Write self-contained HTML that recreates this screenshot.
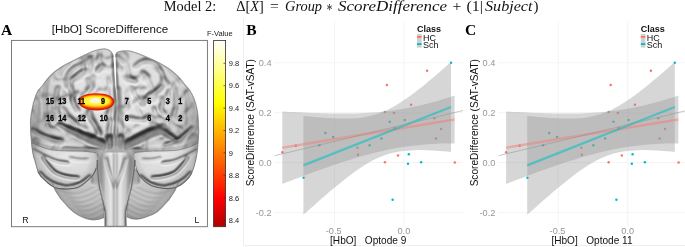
<!DOCTYPE html>
<html><head><meta charset="utf-8"><title>Figure</title>
<style>
html,body{margin:0;padding:0;background:#fff;}
body{width:685px;height:247px;overflow:hidden;position:relative;font-family:"Liberation Sans",sans-serif;}
svg{position:absolute;left:0;top:0;will-change:transform;}
text{font-family:"Liberation Sans",sans-serif;}
.tick{font-size:9.2px;fill:#969696;}
.axt{font-size:10.1px;fill:#111;}
.legt{font-size:9px;font-weight:bold;fill:#111;}
.leg{font-size:9px;fill:#111;}
.pl{font-family:"Liberation Serif",serif;font-weight:bold;font-size:15.5px;fill:#000;}
.ttl text{font-family:"Liberation Serif",serif;font-size:14.5px;fill:#111;}
.cb{font-size:7.5px;fill:#222;}
.num{font-size:8.3px;font-weight:bold;fill:#000;stroke:#000;stroke-width:0.3px;}
</style></head><body>
<svg width="685" height="247" viewBox="0 0 685 247">
<defs>
<linearGradient id="hot" x1="0" y1="0" x2="0" y2="1">
<stop offset="0" stop-color="#ffffff"/><stop offset="0.338" stop-color="#ffff00"/><stop offset="0.845" stop-color="#ff0000"/><stop offset="1" stop-color="#b00000"/>
</linearGradient>
</defs>
<g class="ttl" lengthAdjust="spacingAndGlyphs">
<text x="163.8" y="11.3" textLength="52.4" lengthAdjust="spacingAndGlyphs">Model 2:</text>
<text x="236.2" y="11.3" textLength="27.6" lengthAdjust="spacingAndGlyphs">Δ[<tspan font-style="italic">X</tspan>]</text>
<text x="270" y="11.3" textLength="8.8" lengthAdjust="spacingAndGlyphs">=</text>
<text x="285" y="11.3" textLength="37" lengthAdjust="spacingAndGlyphs" font-style="italic">Group</text>
<text x="326.8" y="15.2" textLength="5.6" lengthAdjust="spacingAndGlyphs" style="font-size:17px">*</text>
<text x="338" y="11.3" textLength="109" lengthAdjust="spacingAndGlyphs" font-style="italic">ScoreDifference</text>
<text x="452.5" y="11.3" textLength="8.8" lengthAdjust="spacingAndGlyphs">+</text>
<text x="466.5" y="11.3" textLength="16.5" lengthAdjust="spacingAndGlyphs">(1|</text>
<text x="485" y="11.3" textLength="47.5" lengthAdjust="spacingAndGlyphs" font-style="italic">Subject</text>
<text x="533.5" y="11.3" textLength="5" lengthAdjust="spacingAndGlyphs">)</text>
</g>
<text x="1" y="34.8" class="pl">A</text>
<text x="110" y="32.8" text-anchor="middle" style="font-size:11.6px;fill:#111">[HbO] ScoreDifference</text>
<defs>
<filter id="b05" x="-30%" y="-30%" width="160%" height="160%"><feGaussianBlur stdDeviation="0.45"/></filter>
<filter id="b1" x="-30%" y="-30%" width="160%" height="160%"><feGaussianBlur stdDeviation="0.9"/></filter>
<filter id="b2" x="-30%" y="-30%" width="160%" height="160%"><feGaussianBlur stdDeviation="1.8"/></filter>
<filter id="emb" filterUnits="userSpaceOnUse" x="10" y="38" width="200" height="192" color-interpolation-filters="sRGB">
<feColorMatrix in="SourceGraphic" type="luminanceToAlpha" result="A"/>
<feTurbulence type="turbulence" baseFrequency="0.055 0.05" numOctaves="2" seed="7" result="T"/>
<feColorMatrix in="T" type="matrix" values="0 0 0 0 0  0 0 0 0 0  0 0 0 0 0  5 0 0 0 0" result="TN"/>
<feComposite in="A" in2="TN" operator="arithmetic" k1="0.2" k2="0.8" k3="0" k4="0" result="AT"/>
<feGaussianBlur in="AT" stdDeviation="1.6" result="H"/>
<feDiffuseLighting in="H" surfaceScale="9" diffuseConstant="1.0" lighting-color="#f4f4f4" result="L"><feDistantLight azimuth="268" elevation="70"/></feDiffuseLighting>
<feColorMatrix in="H" type="matrix" values="0 0 0 1 0  0 0 0 1 0  0 0 0 1 0  0 0 0 0 1" result="HG"/>
<feComposite in="L" in2="HG" operator="arithmetic" k1="0.74" k2="0.25" k3="0" k4="0"/>
</filter>
<filter id="emb2" filterUnits="userSpaceOnUse" x="10" y="38" width="200" height="192" color-interpolation-filters="sRGB">
<feColorMatrix in="SourceGraphic" type="luminanceToAlpha" result="A"/>
<feGaussianBlur in="A" stdDeviation="1.0" result="H"/>
<feDiffuseLighting in="H" surfaceScale="6" diffuseConstant="1.0" lighting-color="#f2f2f2" result="L"><feDistantLight azimuth="268" elevation="72"/></feDiffuseLighting>
<feColorMatrix in="H" type="matrix" values="0 0 0 1 0  0 0 0 1 0  0 0 0 1 0  0 0 0 0 1" result="HG"/>
<feComposite in="L" in2="HG" operator="arithmetic" k1="0.7" k2="0.27" k3="0" k4="0"/>
</filter>
<radialGradient id="hgL" gradientUnits="userSpaceOnUse" cx="97" cy="100" r="70"><stop offset="0" stop-color="#fff"/><stop offset="0.45" stop-color="#f2f2f2"/><stop offset="0.75" stop-color="#d6d6d6"/><stop offset="0.92" stop-color="#b4b4b4"/><stop offset="1" stop-color="#9c9c9c"/></radialGradient>
<radialGradient id="hgR" gradientUnits="userSpaceOnUse" cx="133" cy="100" r="70"><stop offset="0" stop-color="#fff"/><stop offset="0.45" stop-color="#f2f2f2"/><stop offset="0.75" stop-color="#d6d6d6"/><stop offset="0.92" stop-color="#b4b4b4"/><stop offset="1" stop-color="#9c9c9c"/></radialGradient>
<radialGradient id="hgTL" gradientUnits="userSpaceOnUse" cx="68" cy="160" r="38"><stop offset="0" stop-color="#fff"/><stop offset="0.55" stop-color="#ececec"/><stop offset="0.85" stop-color="#c0c0c0"/><stop offset="1" stop-color="#8c8c8c"/></radialGradient>
<radialGradient id="hgTR" gradientUnits="userSpaceOnUse" cx="162" cy="160" r="38"><stop offset="0" stop-color="#fff"/><stop offset="0.55" stop-color="#ececec"/><stop offset="0.85" stop-color="#c0c0c0"/><stop offset="1" stop-color="#8c8c8c"/></radialGradient>
<radialGradient id="hgCL" gradientUnits="userSpaceOnUse" cx="92" cy="182" r="44"><stop offset="0" stop-color="#d2d2d2"/><stop offset="0.5" stop-color="#c0c0c0"/><stop offset="0.8" stop-color="#9c9c9c"/><stop offset="1" stop-color="#707070"/></radialGradient>
<radialGradient id="hgCR" gradientUnits="userSpaceOnUse" cx="138" cy="182" r="44"><stop offset="0" stop-color="#d2d2d2"/><stop offset="0.5" stop-color="#c0c0c0"/><stop offset="0.8" stop-color="#9c9c9c"/><stop offset="1" stop-color="#707070"/></radialGradient>
<linearGradient id="hgS" gradientUnits="userSpaceOnUse" x1="98" y1="0" x2="133" y2="0"><stop offset="0" stop-color="#777"/><stop offset="0.18" stop-color="#d8d8d8"/><stop offset="0.36" stop-color="#fff"/><stop offset="0.5" stop-color="#e4e4e4"/><stop offset="0.64" stop-color="#fff"/><stop offset="0.82" stop-color="#d8d8d8"/><stop offset="1" stop-color="#777"/></linearGradient>
<clipPath id="boxclip"><rect x="12" y="41" width="195" height="185.5"/></clipPath>
<clipPath id="sil"><path d="M113.4,57 C112.8,53 110.5,49.6 104.7,48.7 C100,48.8 97,50 94.7,50.8 C91,52 88,53.5 84.7,55 C81,56.8 78,58.3 74.7,60 C71,61.8 68,63.2 64.7,65 C61,67 58,69.2 54.7,71.7 C52,73.8 50,76 48,78.3 C46,80.5 44.5,82.8 43,85 C41,87.5 39.3,89.2 38,90.7 C36.5,93.5 35.5,96 34.7,99 C33.5,102 32.7,105.5 32.2,109 C31.2,113 30.7,117 30.5,120.7 C30.3,127 30.6,134 31.3,140 C32,150 33,156 34.7,160 C35.8,164 36.8,168 38,171.7 C39.5,175 42,178 44.7,180 C47.5,183 51,185.8 54.7,187.5 C59,189 63.5,189.3 68,189 C71.5,188.8 75,188.4 78,187.5 C81,186 84,184 86.3,181.7 C89,179.5 91,177.5 93,175 C94.5,172.5 95.5,170.5 96.3,168.3 C97,165 97.2,162 97.2,160 L100,152 L116.2,148 L116.6,100 Z"/><path d="M115.6,57 C115.7,56 115.7,55 115.8,54.2 C116.3,53 117,52.3 118.3,51.7 C121,50.8 124.5,50.6 128.3,50.8 C133,51.5 137.5,53.2 141.7,55 C146,56.7 150.5,58.7 155,60.8 C159.5,63 164,65.6 168.3,68.3 C172,70.8 175.3,73.8 178.3,76.7 C181,79.3 183,82.2 185,85 C187,87 188.6,88.8 190,90.7 C191.7,93.3 193,96 194.2,99 C195.4,102.2 196.3,105.6 197,109 C197.8,113 198.2,117 198.3,120.7 C198.8,127 198.8,134 198.3,140 C197.6,150 196.8,156 195.8,160 C194.7,165 193.4,169.5 191.7,173.3 C190,176.5 187.7,179.4 185,181.7 C182,184.5 178.7,186.5 175,187.5 C171,188.7 167,188.8 163.3,188.3 C159,187.8 155,187 151.7,185.8 C148,184 144.5,181.4 141.7,178.3 C139.5,175.8 137.8,173 136.7,170 C135.6,166.5 135.1,163 135,160 L132,152 L116.2,148 L116.6,100 Z"/></clipPath>
<clipPath id="tlc"><path d="M29,141 C38,146 46,149 53,150 C62,151 70,151 78,151 C85,151.3 91,151.8 96,152.6 C98.5,155 99,158 97.5,161 C97,164 96.8,166 96,167.7 L93,175 L86.3,181.7 L78,187.5 L68,189 L54.7,187.5 L44.7,180 L38,171.7 L33,158 Z"/><path d="M201.6,141 C192.6,146 184.6,149 177.6,150 C168.6,151 160.6,151 152.6,151 C145.6,151.3 139.6,151.8 134.6,152.6 C132.1,155 131.6,158 133.1,161 C133.6,164 133.8,166 134.6,167.7 L137.6,175 L144.3,181.7 L152.6,187.5 L162.6,189 L175.9,187.5 L185.9,180 L192.6,171.7 L197.6,158 Z"/></clipPath>
<clipPath id="sil2"><path d="M52,182 C54,188 56,192 58.3,195 C60,198.5 62.5,201 65,203.3 C67.5,206.5 70.3,209.3 73.3,211.7 C76.5,214 79.8,216 83.3,217.5 C86.5,218.8 90,219.7 93.3,220 C97,219.8 101,219 104.2,217.5 L106,168 L60,170 Z"/><path d="M178.5,182 C176.5,188 174.5,192 172,195 C170.3,198.5 168,201 165.5,203.3 C163,206.5 160.2,209.3 157.2,211.7 C154,214 150.4,215.6 146.7,216.7 C143.5,218 140,219 136.7,219.2 C133,219.2 129.5,218.3 126.7,216.7 L125,168 L170,170 Z"/><path d="M107,151.5 C101,152.5 97.2,158 97.5,165 C97.6,170 97.9,174 98.2,176.7 C98.6,182 99.2,186 100,190 C101.6,191.5 100.2,193.5 101.4,195 C102.8,196.5 101.2,198.5 102.4,200 C103.8,201.5 102.6,203.5 103.6,205 C104.6,207 104.2,209.5 105,211.7 L105,228 L126.2,228 L125.8,211.7 C126.4,209.5 126.2,207 127.2,205 C128.2,203.5 127,201.5 128.4,200 C129.6,198.5 128,196.5 129.4,195 C130.6,193.5 129.4,191.5 130.8,190 C131.3,188 131.5,186.5 131.7,185 C132.4,181 133,178 133.3,175 C133.8,172 134.3,169 134.6,165 C135,158 131,152.5 125,151.5 Z"/><rect x="97" y="140" width="38" height="30"/></clipPath>
</defs>
<g clip-path="url(#boxclip)"><g clip-path="url(#sil2)"><g filter="url(#emb2)">
<rect x="0" y="30" width="230" height="217" fill="#8c8c8c"/>
<path d="M52,182 C54,188 56,192 58.3,195 C60,198.5 62.5,201 65,203.3 C67.5,206.5 70.3,209.3 73.3,211.7 C76.5,214 79.8,216 83.3,217.5 C86.5,218.8 90,219.7 93.3,220 C97,219.8 101,219 104.2,217.5 L106,168 L60,170 Z" fill="url(#hgCL)" stroke="url(#hgCL)" stroke-width="7"/><path d="M178.5,182 C176.5,188 174.5,192 172,195 C170.3,198.5 168,201 165.5,203.3 C163,206.5 160.2,209.3 157.2,211.7 C154,214 150.4,215.6 146.7,216.7 C143.5,218 140,219 136.7,219.2 C133,219.2 129.5,218.3 126.7,216.7 L125,168 L170,170 Z" fill="url(#hgCR)" stroke="url(#hgCR)" stroke-width="7"/>
<g fill="none" stroke="#000" stroke-width="0.6" stroke-opacity="0.22">
<path d="M60.0,191.0 C72.0,198.0 86.0,195.0 104.0,181.0"/>
<path d="M170.6,191.0 C158.6,198.0 144.6,195.0 126.6,181.0"/>
<path d="M63.5,195.2 C75.5,202.2 87.5,199.2 104.0,186.7"/>
<path d="M167.1,195.2 C155.1,202.2 143.1,199.2 126.6,186.7"/>
<path d="M67.0,199.4 C79.0,206.4 89.0,203.4 104.0,192.4"/>
<path d="M163.6,199.4 C151.6,206.4 141.6,203.4 126.6,192.4"/>
<path d="M70.5,203.6 C82.5,210.6 90.5,207.6 104.0,198.1"/>
<path d="M160.1,203.6 C148.1,210.6 140.1,207.6 126.6,198.1"/>
<path d="M74.0,207.8 C86.0,214.8 92.0,211.8 104.0,203.8"/>
<path d="M156.6,207.8 C144.6,214.8 138.6,211.8 126.6,203.8"/>
<path d="M77.5,212.0 C89.5,219.0 93.5,216.0 104.0,209.5"/>
<path d="M153.1,212.0 C141.1,219.0 137.1,216.0 126.6,209.5"/>
<path d="M81.0,216.2 C93.0,223.2 95.0,220.2 104.0,215.2"/>
<path d="M149.6,216.2 C137.6,223.2 135.6,220.2 126.6,215.2"/>
</g>
<rect x="92" y="140" width="47" height="44" fill="#9a9a9a"/>
<path d="M107,151.5 C101,152.5 97.2,158 97.5,165 C97.6,170 97.9,174 98.2,176.7 C98.6,182 99.2,186 100,190 C101.6,191.5 100.2,193.5 101.4,195 C102.8,196.5 101.2,198.5 102.4,200 C103.8,201.5 102.6,203.5 103.6,205 C104.6,207 104.2,209.5 105,211.7 L105,228 L126.2,228 L125.8,211.7 C126.4,209.5 126.2,207 127.2,205 C128.2,203.5 127,201.5 128.4,200 C129.6,198.5 128,196.5 129.4,195 C130.6,193.5 129.4,191.5 130.8,190 C131.3,188 131.5,186.5 131.7,185 C132.4,181 133,178 133.3,175 C133.8,172 134.3,169 134.6,165 C135,158 131,152.5 125,151.5 Z" fill="url(#hgS)"/>
<path d="M106,158 C108,170 112,180 115.3,187 C118.5,180 123,170 126,158" fill="none" stroke="#000" stroke-opacity="0.22" stroke-width="2.6"/>
<line x1="115.3" y1="150" x2="115.3" y2="228" stroke="#000" stroke-opacity="0.3" stroke-width="0.9"/>
</g></g>
<g clip-path="url(#sil)"><g filter="url(#emb)">
<rect x="0" y="30" width="230" height="217" fill="#8c8c8c"/>
<path d="M113.4,57 C112.8,53 110.5,49.6 104.7,48.7 C100,48.8 97,50 94.7,50.8 C91,52 88,53.5 84.7,55 C81,56.8 78,58.3 74.7,60 C71,61.8 68,63.2 64.7,65 C61,67 58,69.2 54.7,71.7 C52,73.8 50,76 48,78.3 C46,80.5 44.5,82.8 43,85 C41,87.5 39.3,89.2 38,90.7 C36.5,93.5 35.5,96 34.7,99 C33.5,102 32.7,105.5 32.2,109 C31.2,113 30.7,117 30.5,120.7 C30.3,127 30.6,134 31.3,140 C32,150 33,156 34.7,160 C35.8,164 36.8,168 38,171.7 C39.5,175 42,178 44.7,180 C47.5,183 51,185.8 54.7,187.5 C59,189 63.5,189.3 68,189 C71.5,188.8 75,188.4 78,187.5 C81,186 84,184 86.3,181.7 C89,179.5 91,177.5 93,175 C94.5,172.5 95.5,170.5 96.3,168.3 C97,165 97.2,162 97.2,160 L100,152 L116.2,148 L116.6,100 Z" fill="url(#hgL)" stroke="url(#hgL)" stroke-width="7"/><path d="M115.6,57 C115.7,56 115.7,55 115.8,54.2 C116.3,53 117,52.3 118.3,51.7 C121,50.8 124.5,50.6 128.3,50.8 C133,51.5 137.5,53.2 141.7,55 C146,56.7 150.5,58.7 155,60.8 C159.5,63 164,65.6 168.3,68.3 C172,70.8 175.3,73.8 178.3,76.7 C181,79.3 183,82.2 185,85 C187,87 188.6,88.8 190,90.7 C191.7,93.3 193,96 194.2,99 C195.4,102.2 196.3,105.6 197,109 C197.8,113 198.2,117 198.3,120.7 C198.8,127 198.8,134 198.3,140 C197.6,150 196.8,156 195.8,160 C194.7,165 193.4,169.5 191.7,173.3 C190,176.5 187.7,179.4 185,181.7 C182,184.5 178.7,186.5 175,187.5 C171,188.7 167,188.8 163.3,188.3 C159,187.8 155,187 151.7,185.8 C148,184 144.5,181.4 141.7,178.3 C139.5,175.8 137.8,173 136.7,170 C135.6,166.5 135.1,163 135,160 L132,152 L116.2,148 L116.6,100 Z" fill="url(#hgR)" stroke="url(#hgR)" stroke-width="7"/>
<path d="M29,139 C45,141 62,144.5 78,147.5 C88,149 97,149.8 104.5,149.6 L99,160 L97.2,168 L93,175 L86,182 L78,187.5 L68,189 L54.7,187.5 L44.7,180 L38,171.7 L33,158 Z" fill="url(#hgTL)"/>
<path d="M201,139 C185,141 168,144.5 152,147.5 C142,149 133,150.3 126,150.6 L133,160 L135,168 L137,171 L141.7,178.3 L151.7,185.8 L163.3,188.3 L175,187.5 L185,181.7 L191.7,173.3 L197,158 Z" fill="url(#hgTR)"/>
<g fill="none" stroke="#000" stroke-linecap="round" stroke-linejoin="round">
<path d="M91.3,57.5 C88,60 86,62.5 83,64.2 C80,65.5 78,66 76.3,66.7 C73,68.5 71,70.5 69.7,72.5 C68.5,74.5 67.5,76.5 67.2,78.3 C66.8,81 66.8,84 67.5,87" stroke-width="3.4" stroke-opacity="0.21"/><path d="M99.7,55 C99,57.5 98,59.5 96.3,60.8 C94,62 92,62.8 89.7,63.3" stroke-width="2.8" stroke-opacity="0.19"/><path d="M101.8,66.2 L97.6,70.4" stroke-width="4.2" stroke-opacity="0.23"/><path d="M84.7,70 C82,71 80,72.5 78,74.2 C75.5,76 73,78 71.3,80 C70.5,82 70.3,83.5 70.5,85 C70.8,88 71.5,91 72.2,94 C72.5,96 72.3,97.5 72.2,99 C72.8,101.5 73.6,103.5 74.7,105.7 C75.7,107.5 76.8,109.2 78,110.7" stroke-width="3.6" stroke-opacity="0.23"/><path d="M77,93 C74.8,94.8 73,96.8 72.2,99" stroke-width="3.1" stroke-opacity="0.21"/><path d="M68,63.3 C65.5,65.5 63.5,67.5 61.3,70 C60,72 59.3,74 59,76" stroke-width="2.5" stroke-opacity="0.17"/><path d="M58,68.3 C56,70.5 54.5,72.5 53,75" stroke-width="2.2" stroke-opacity="0.17"/><path d="M49.7,76.7 C48.3,78.5 47.2,80.5 46.3,82.5 C45.5,86 45,92 44.7,97.3 C45,102 45.6,106.5 46.3,110.7 C46.8,115 47.4,119.5 48,124" stroke-width="2.8" stroke-opacity="0.19"/><path d="M58,87.3 C57,89.5 56.5,91.5 56.3,94 C56.3,98 56.7,102 57.2,105.7 C57.6,108.5 58.2,111.5 58.8,114" stroke-width="3.1" stroke-opacity="0.21"/><path d="M38,100.7 C37.4,106 37.2,112 37.2,117.3" stroke-width="2.2" stroke-opacity="0.17"/><path d="M89.7,110.7 C90,113 90.5,115.2 91.3,117.3 C92.3,119.8 93.5,122 94.7,124 C96,127 98,131 100,134" stroke-width="3.6" stroke-opacity="0.23"/><path d="M63,108 C65,112 68,116 72,120 C76,124 81,127 86,129" stroke-width="2.8" stroke-opacity="0.19"/><path d="M47,126 C51,128.5 55,130 59,131" stroke-width="2.5" stroke-opacity="0.17"/><path d="M87,79 C88.5,82 89.5,85 89.5,88 C89.3,90 88.5,92 87,93.5" stroke-width="2.8" stroke-opacity="0.15"/><path d="M94,76 C93,80 92.5,84 93,88" stroke-width="2.5" stroke-opacity="0.13"/><path d="M52,104 C52,110 52.5,116 53.5,121" stroke-width="2.2" stroke-opacity="0.13"/><path d="M64,92 C64.5,96 65,100 66,104" stroke-width="2.2" stroke-opacity="0.13"/><path d="M80,116 C80.5,119 82,122 84,124.5" stroke-width="2.2" stroke-opacity="0.13"/><path d="M108,92 C108.5,100 109.5,108 110,116 C110.3,124 110,132 109,140" stroke-width="3.1" stroke-opacity="0.15"/><path d="M119.2,57.5 C121,59 122.6,60.4 124.2,61.7" stroke-width="3.4" stroke-opacity="0.21"/><path d="M135,66.7 C137,64.5 139,62.8 141.7,61.7 C146,60.8 150.5,61 155,62.5 C156.5,64 157.5,65.3 158.3,66.7 C159.5,68.3 160.7,70 161.7,71.7 C162.3,74 162.8,76 163.3,78.3 C165,80.5 166.7,82.8 168.3,85" stroke-width="3.1" stroke-opacity="0.21"/><path d="M129.6,78 L135.4,81" stroke-width="4.2" stroke-opacity="0.23"/><path d="M143,73 L147.8,77" stroke-width="4.2" stroke-opacity="0.23"/><path d="M165,65 C168.5,68 172,71.5 175,75 C177.5,77.8 179.7,80.5 181.7,83.3" stroke-width="2.4" stroke-opacity="0.17"/><path d="M163.3,85.7 C161.5,87.5 160,89.2 158.3,90.7 C154.5,92 151,93.5 148.3,95.7 C146,98.5 144,101.5 142.5,104.8" stroke-width="3.6" stroke-opacity="0.23"/><path d="M130,118.2 C134,119.3 139,120 143.3,119.8 C145.5,118.8 147,117.8 148,116.5" stroke-width="3.1" stroke-opacity="0.21"/><path d="M163.3,102.3 C161.8,104.5 160.8,106.8 160.8,109 C161.8,111 163.3,112.6 165,114" stroke-width="3.4" stroke-opacity="0.21"/><path d="M175,89 C175.7,94 176,99 175.8,104 C175.5,108.5 175,113 174.2,117.3" stroke-width="2.8" stroke-opacity="0.19"/><path d="M131.7,87.3 C132.5,89.8 133.6,92 135,94 C137,97.5 139.3,101 141.7,104" stroke-width="2.8" stroke-opacity="0.15"/><path d="M186,92 C187.5,98 188.3,105 188.3,112 C188.3,117 188,122 187.3,126" stroke-width="2.5" stroke-opacity="0.17"/><path d="M150,122 C154,125 159,126.5 164,126" stroke-width="2.8" stroke-opacity="0.17"/><path d="M168,120 C171,124 175,127 180,128.5" stroke-width="2.5" stroke-opacity="0.17"/><path d="M118.5,89 C118.8,95 119.2,100 119.4,105.7 C119.8,112 120.4,118 121,124 C121.2,128 121.4,132 121.4,136" stroke-width="3.4" stroke-opacity="0.17"/><path d="M127,64 C128,68 128.5,72 128.5,76" stroke-width="2.5" stroke-opacity="0.13"/><path d="M148,80 C150,83 151.5,86 152,89" stroke-width="2.5" stroke-opacity="0.13"/><path d="M137,106 C138,110 139.5,113 141.5,116" stroke-width="2.2" stroke-opacity="0.13"/><path d="M168,90 C169,95 169.5,100 169.5,105" stroke-width="2.2" stroke-opacity="0.13"/><path d="M192,104 C193,110 193.3,116 193,122" stroke-width="2.1" stroke-opacity="0.15"/><path d="M154,108 C155,112 157,116 160,119" stroke-width="2.2" stroke-opacity="0.13"/><path d="M64,148.3 C78,149.8 92,149.8 104,149" stroke-width="1.6" stroke-opacity="0.42"/><path d="M32,129.7 C38,133.5 44,136.3 49.7,138 C54,139.6 58,140.3 62,140.6" stroke-width="2.2" stroke-opacity="0.39"/><path d="M110,138 L110.2,146.5" stroke-width="6.0" stroke-opacity="0.35"/><path d="M126,149 C134,149.8 139,150.3 143.3,150.8" stroke-width="1.6" stroke-opacity="0.42"/><path d="M191.7,128 C187,133 183,137 178.3,139.9 C174,142.2 169.5,144 165,144.9" stroke-width="2.2" stroke-opacity="0.39"/><path d="M120.6,138 L120.4,146.5" stroke-width="6.0" stroke-opacity="0.35"/><path d="M49.7,175 C53,178 57,180 61.3,181.7 C66,183.5 70.5,184.6 74.7,185 C79,185 83,183.5 86,181" stroke-width="1.8" stroke-opacity="0.44"/><path d="M53,172.5 C57,171 61,170.5 64.7,170.8 C69.5,171.2 74,172.3 78,174 C80.5,175 83,176.5 84.7,178" stroke-width="1.5" stroke-opacity="0.40"/><path d="M36,152 C40,156 46,158.5 52,159" stroke-width="1.8" stroke-opacity="0.28"/><path d="M60,158 C68,160 78,160 88,157" stroke-width="1.8" stroke-opacity="0.24"/><path d="M150,176.7 C153,175 156.5,173.8 160,173.3 C163.5,173.8 167,174.8 170,175.8 C173,176.6 175.8,176.9 178.3,176.7 C181.5,175.5 184.3,173.8 186.7,171.7" stroke-width="1.6" stroke-opacity="0.44"/><path d="M146,181 C150,184 155,185.6 160,186" stroke-width="1.6" stroke-opacity="0.36"/><path d="M194,152 C190,156 184,158.5 178,159" stroke-width="1.8" stroke-opacity="0.28"/><path d="M170,158 C162,160 152,160 142,157" stroke-width="1.8" stroke-opacity="0.24"/>
</g><path d="M58,123 C66,126 76,129.5 86,133.5 C93,136 100,139 106.5,142 L106.5,148.5 C99,146.5 93,144 86,141 C77,137 67,130.5 58,124.5 Z" fill="#000" fill-opacity="0.4"/><path d="M124,142 C130,139 137,135.5 143,132.5 C148,130 153,128 158.3,126.5 C162,128 166,130.5 170,133.5 C173,135.5 176,138 178.5,140.5 L176.5,142 C172,139.5 167,136.5 162,134 C158,133.5 152,136.5 146,139.5 C139,143 131,147 124,149 Z" fill="#000" fill-opacity="0.4"/><g fill="none" stroke="#000" stroke-linecap="round" stroke-linejoin="round">
<path d="M114.5,50 C114.4,70 115.5,85 116.6,100 C116.8,115 116.2,132 115.6,150" stroke-width="1.5" stroke-opacity="0.55"/>
</g>
</g></g>
<g clip-path="url(#sil)"><g clip-path="url(#tlc)"><g filter="url(#emb2)">
<rect x="0" y="30" width="230" height="217" fill="#8c8c8c"/>
<path d="M29,141 C38,146 46,149 53,150 C62,151 70,151 78,151 C85,151.3 91,151.8 96,152.6 C98.5,155 99,158 97.5,161 C97,164 96.8,166 96,167.7 L93,175 L86.3,181.7 L78,187.5 L68,189 L54.7,187.5 L44.7,180 L38,171.7 L33,158 Z" fill="url(#hgTL)" stroke="url(#hgTL)" stroke-width="6"/><path d="M201.6,141 C192.6,146 184.6,149 177.6,150 C168.6,151 160.6,151 152.6,151 C145.6,151.3 139.6,151.8 134.6,152.6 C132.1,155 131.6,158 133.1,161 C133.6,164 133.8,166 134.6,167.7 L137.6,175 L144.3,181.7 L152.6,187.5 L162.6,189 L175.9,187.5 L185.9,180 L192.6,171.7 L197.6,158 Z" fill="url(#hgTR)" stroke="url(#hgTR)" stroke-width="6"/>
<g fill="none" stroke="#000" stroke-linecap="round" stroke-linejoin="round"><path d="M43,157.6 C47,164 51,169 55.6,172.7 C62,176 70,177.5 78.3,177.7" stroke-width="2.0" stroke-opacity="0.45"/><path d="M33,150 C40,154 47,157.5 53,160 C58,162 63,163 68,163" stroke-width="1.8" stroke-opacity="0.32"/><path d="M40,173 C46,181 54,185.5 66,187 C76,187 84,182.5 90,176.5" stroke-width="2.2" stroke-opacity="0.36"/><path d="M70,158 C76,160 82,160.5 88,159.5" stroke-width="1.6" stroke-opacity="0.23"/><path d="M187.6,157.6 C183.6,164 179.6,169 175.0,172.7 C168.6,176 160.6,177.5 152.3,177.7" stroke-width="2.0" stroke-opacity="0.45"/><path d="M197.6,150 C190.6,154 183.6,157.5 177.6,160 C172.6,162 167.6,163 162.6,163" stroke-width="1.8" stroke-opacity="0.32"/><path d="M190.6,173 C184.6,181 176.6,185.5 164.6,187 C154.6,187 146.6,182.5 140.6,176.5" stroke-width="2.2" stroke-opacity="0.36"/><path d="M160.6,158 C154.6,160 148.6,160.5 142.6,159.5" stroke-width="1.6" stroke-opacity="0.23"/></g>
</g></g>
<g fill="none" stroke="#505050" stroke-width="3.2" filter="url(#b1)" opacity="0.33" transform="translate(0,-1.8)"><path d="M29,141 C38,146 46,149 53,150 C62,151 70,151 78,151 C85,151.3 91,151.8 96,152.6 C98.5,155 99,158 97.5,161"/><path d="M201.6,141 C192.6,146 184.6,149 177.6,150 C168.6,151 160.6,151 152.6,151 C145.6,151.3 139.6,151.8 134.6,152.6 C132.1,155 131.6,158 133.1,161"/></g>
<g fill="none" stroke="#505050" stroke-width="0.9" filter="url(#b05)" opacity="0.55"><path d="M29,141 C38,146 46,149 53,150 C62,151 70,151 78,151 C85,151.3 91,151.8 96,152.6 C98.5,155 99,158 97.5,161"/><path d="M201.6,141 C192.6,146 184.6,149 177.6,150 C168.6,151 160.6,151 152.6,151 C145.6,151.3 139.6,151.8 134.6,152.6 C132.1,155 131.6,158 133.1,161"/></g>
</g>
<g clip-path="url(#sil)"><g fill="none" stroke="#4a4a4a" stroke-linecap="round" filter="url(#b05)" opacity="0.22">
<path d="M91.3,57.5 C88,60 86,62.5 83,64.2 C80,65.5 78,66 76.3,66.7 C73,68.5 71,70.5 69.7,72.5 C68.5,74.5 67.5,76.5 67.2,78.3 C66.8,81 66.8,84 67.5,87" stroke-width="0.8" stroke-opacity="0.80"/><path d="M99.7,55 C99,57.5 98,59.5 96.3,60.8 C94,62 92,62.8 89.7,63.3" stroke-width="0.7" stroke-opacity="0.72"/><path d="M101.8,66.2 L97.6,70.4" stroke-width="1.0" stroke-opacity="0.88"/><path d="M84.7,70 C82,71 80,72.5 78,74.2 C75.5,76 73,78 71.3,80 C70.5,82 70.3,83.5 70.5,85 C70.8,88 71.5,91 72.2,94 C72.5,96 72.3,97.5 72.2,99 C72.8,101.5 73.6,103.5 74.7,105.7 C75.7,107.5 76.8,109.2 78,110.7" stroke-width="0.9" stroke-opacity="0.88"/><path d="M77,93 C74.8,94.8 73,96.8 72.2,99" stroke-width="0.8" stroke-opacity="0.80"/><path d="M49.7,76.7 C48.3,78.5 47.2,80.5 46.3,82.5 C45.5,86 45,92 44.7,97.3 C45,102 45.6,106.5 46.3,110.7 C46.8,115 47.4,119.5 48,124" stroke-width="0.7" stroke-opacity="0.72"/><path d="M58,87.3 C57,89.5 56.5,91.5 56.3,94 C56.3,98 56.7,102 57.2,105.7 C57.6,108.5 58.2,111.5 58.8,114" stroke-width="0.8" stroke-opacity="0.80"/><path d="M89.7,110.7 C90,113 90.5,115.2 91.3,117.3 C92.3,119.8 93.5,122 94.7,124 C96,127 98,131 100,134" stroke-width="0.9" stroke-opacity="0.88"/><path d="M63,108 C65,112 68,116 72,120 C76,124 81,127 86,129" stroke-width="0.7" stroke-opacity="0.72"/><path d="M119.2,57.5 C121,59 122.6,60.4 124.2,61.7" stroke-width="0.8" stroke-opacity="0.80"/><path d="M135,66.7 C137,64.5 139,62.8 141.7,61.7 C146,60.8 150.5,61 155,62.5 C156.5,64 157.5,65.3 158.3,66.7 C159.5,68.3 160.7,70 161.7,71.7 C162.3,74 162.8,76 163.3,78.3 C165,80.5 166.7,82.8 168.3,85" stroke-width="0.8" stroke-opacity="0.80"/><path d="M129.6,78 L135.4,81" stroke-width="1.0" stroke-opacity="0.88"/><path d="M143,73 L147.8,77" stroke-width="1.0" stroke-opacity="0.88"/><path d="M163.3,85.7 C161.5,87.5 160,89.2 158.3,90.7 C154.5,92 151,93.5 148.3,95.7 C146,98.5 144,101.5 142.5,104.8" stroke-width="0.9" stroke-opacity="0.88"/><path d="M130,118.2 C134,119.3 139,120 143.3,119.8 C145.5,118.8 147,117.8 148,116.5" stroke-width="0.8" stroke-opacity="0.80"/><path d="M163.3,102.3 C161.8,104.5 160.8,106.8 160.8,109 C161.8,111 163.3,112.6 165,114" stroke-width="0.8" stroke-opacity="0.80"/><path d="M175,89 C175.7,94 176,99 175.8,104 C175.5,108.5 175,113 174.2,117.3" stroke-width="0.7" stroke-opacity="0.72"/>
</g>
<path d="M58,123 C66,126 76,129.5 86,133.5 C93,136 100,139 106.5,142 L106.5,148.5 C99,146.5 93,144 86,141 C77,137 67,130.5 58,124.5 Z" fill="#444" filter="url(#b1)" opacity="0.25"/><path d="M124,142 C130,139 137,135.5 143,132.5 C148,130 153,128 158.3,126.5 C162,128 166,130.5 170,133.5 C173,135.5 176,138 178.5,140.5 L176.5,142 C172,139.5 167,136.5 162,134 C158,133.5 152,136.5 146,139.5 C139,143 131,147 124,149 Z" fill="#444" filter="url(#b1)" opacity="0.25"/>
<g fill="none" stroke="#3c3c3c" stroke-linecap="round" filter="url(#b1)" opacity="0.28">
<path d="M64,148.3 C78,149.8 92,149.8 104,149" stroke-width="1.1" stroke-opacity="0.72"/><path d="M32,129.7 C38,133.5 44,136.3 49.7,138 C54,139.6 58,140.3 62,140.6" stroke-width="1.5" stroke-opacity="0.66"/><path d="M110,138 L110.2,146.5" stroke-width="4.2" stroke-opacity="0.60"/><path d="M126,149 C134,149.8 139,150.3 143.3,150.8" stroke-width="1.1" stroke-opacity="0.72"/><path d="M191.7,128 C187,133 183,137 178.3,139.9 C174,142.2 169.5,144 165,144.9" stroke-width="1.5" stroke-opacity="0.66"/><path d="M120.6,138 L120.4,146.5" stroke-width="4.2" stroke-opacity="0.60"/>
</g></g>
<g fill="none" stroke="#777" stroke-width="1.1" filter="url(#b05)" opacity="0.7"><path d="M113.4,57 C112.8,53 110.5,49.6 104.7,48.7 C100,48.8 97,50 94.7,50.8 C91,52 88,53.5 84.7,55 C81,56.8 78,58.3 74.7,60 C71,61.8 68,63.2 64.7,65 C61,67 58,69.2 54.7,71.7 C52,73.8 50,76 48,78.3 C46,80.5 44.5,82.8 43,85 C41,87.5 39.3,89.2 38,90.7 C36.5,93.5 35.5,96 34.7,99 C33.5,102 32.7,105.5 32.2,109 C31.2,113 30.7,117 30.5,120.7 C30.3,127 30.6,134 31.3,140 C32,150 33,156 34.7,160 C35.8,164 36.8,168 38,171.7 C39.5,175 42,178 44.7,180 C47.5,183 51,185.8 54.7,187.5 C59,189 63.5,189.3 68,189 C71.5,188.8 75,188.4 78,187.5 C81,186 84,184 86.3,181.7 C89,179.5 91,177.5 93,175 C94.5,172.5 95.5,170.5 96.3,168.3 C97,165 97.2,162 97.2,160"/><path d="M115.6,57 C115.7,56 115.7,55 115.8,54.2 C116.3,53 117,52.3 118.3,51.7 C121,50.8 124.5,50.6 128.3,50.8 C133,51.5 137.5,53.2 141.7,55 C146,56.7 150.5,58.7 155,60.8 C159.5,63 164,65.6 168.3,68.3 C172,70.8 175.3,73.8 178.3,76.7 C181,79.3 183,82.2 185,85 C187,87 188.6,88.8 190,90.7 C191.7,93.3 193,96 194.2,99 C195.4,102.2 196.3,105.6 197,109 C197.8,113 198.2,117 198.3,120.7 C198.8,127 198.8,134 198.3,140 C197.6,150 196.8,156 195.8,160 C194.7,165 193.4,169.5 191.7,173.3 C190,176.5 187.7,179.4 185,181.7 C182,184.5 178.7,186.5 175,187.5 C171,188.7 167,188.8 163.3,188.3 C159,187.8 155,187 151.7,185.8 C148,184 144.5,181.4 141.7,178.3 C139.5,175.8 137.8,173 136.7,170 C135.6,166.5 135.1,163 135,160"/><path d="M52,182 C54,188 56,192 58.3,195 C60,198.5 62.5,201 65,203.3 C67.5,206.5 70.3,209.3 73.3,211.7 C76.5,214 79.8,216 83.3,217.5 C86.5,218.8 90,219.7 93.3,220 C97,219.8 101,219 104.2,217.5"/><path d="M178.5,182 C176.5,188 174.5,192 172,195 C170.3,198.5 168,201 165.5,203.3 C163,206.5 160.2,209.3 157.2,211.7 C154,214 150.4,215.6 146.7,216.7 C143.5,218 140,219 136.7,219.2 C133,219.2 129.5,218.3 126.7,216.7"/></g>
<g fill="none" stroke="#5a5a5a" stroke-width="1.2" filter="url(#b05)" opacity="0.75"><path d="M97.4,160 C97.6,168 97.9,173 98.2,176.7 C98.6,182 99.2,186 100,190 C101.6,191.5 100.2,193.5 101.4,195 C102.8,196.5 101.2,198.5 102.4,200 C103.8,201.5 102.6,203.5 103.6,205 C104.6,207 104.2,209.5 105,211.7 L105,228"/><path d="M134.8,160 C134.4,168 133.8,172 133.3,175 C133,178 132.4,181 131.7,185 C131.5,186.5 131.3,188 130.8,190 C129.4,191.5 130.6,193.5 129.4,195 C128,196.5 129.6,198.5 128.4,200 C127,201.5 128.2,203.5 127.2,205 C126.2,207 126.4,209.5 125.8,211.7 L126.2,228"/></g>
<path d="M38,171.7 C39.5,175 42,178 44.7,180 C47.5,183 51,185.8 54.7,187.5 C59,189 63.5,189.3 68,189 C71.5,188.8 75,188.4 78,187.5 C81,186 84,184 86.3,181.7 C89,179.5 91,177.5 93,175 C94.5,172.5 95.5,170.5 96.3,168.3" fill="none" stroke="#555" stroke-width="0.9" filter="url(#b05)" opacity="0.8"/>
<path d="M191.7,173.3 C190,176.5 187.7,179.4 185,181.7 C182,184.5 178.7,186.5 175,187.5 C171,188.7 167,188.8 163.3,188.3 C159,187.8 155,187 151.7,185.8 C148,184 144.5,181.4 141.7,178.3 C139.5,175.8 137.8,173 136.7,170" fill="none" stroke="#555" stroke-width="0.9" filter="url(#b05)" opacity="0.8"/>
<path d="M78.6,101.6 C78.6,96.2 85.5,93.3 96,93.3 C107,93.3 114.2,96.4 114.2,101.8 C114.2,107.4 107.4,110.4 97,110.4 C86,110.4 78.6,107.2 78.6,101.6 Z" fill="#d21a00"/><g filter="url(#b05)"><path d="M78.6,101.6 C78.6,96.2 85.5,93.3 96,93.3 C107,93.3 114.2,96.4 114.2,101.8 C114.2,107.4 107.4,110.4 97,110.4 C86,110.4 78.6,107.2 78.6,101.6 Z" fill="#e62c00" transform="translate(96.29,101.69) scale(0.949,0.895) translate(-96.4,-101.85)"/><path d="M78.6,101.6 C78.6,96.2 85.5,93.3 96,93.3 C107,93.3 114.2,96.4 114.2,101.8 C114.2,107.4 107.4,110.4 97,110.4 C86,110.4 78.6,107.2 78.6,101.6 Z" fill="#f85000" transform="translate(96.21,101.56) scale(0.910,0.813) translate(-96.4,-101.85)"/><path d="M78.6,101.6 C78.6,96.2 85.5,93.3 96,93.3 C107,93.3 114.2,96.4 114.2,101.8 C114.2,107.4 107.4,110.4 97,110.4 C86,110.4 78.6,107.2 78.6,101.6 Z" fill="#ff8000" transform="translate(96.14,101.45) scale(0.876,0.743) translate(-96.4,-101.85)"/><path d="M78.6,101.6 C78.6,96.2 85.5,93.3 96,93.3 C107,93.3 114.2,96.4 114.2,101.8 C114.2,107.4 107.4,110.4 97,110.4 C86,110.4 78.6,107.2 78.6,101.6 Z" fill="#ffac10" transform="translate(96.06,101.35) scale(0.843,0.673) translate(-96.4,-101.85)"/><path d="M78.6,101.6 C78.6,96.2 85.5,93.3 96,93.3 C107,93.3 114.2,96.4 114.2,101.8 C114.2,107.4 107.4,110.4 97,110.4 C86,110.4 78.6,107.2 78.6,101.6 Z" fill="#ffd018" transform="translate(95.99,101.24) scale(0.809,0.602) translate(-96.4,-101.85)"/><path d="M78.6,101.6 C78.6,96.2 85.5,93.3 96,93.3 C107,93.3 114.2,96.4 114.2,101.8 C114.2,107.4 107.4,110.4 97,110.4 C86,110.4 78.6,107.2 78.6,101.6 Z" fill="#ffe828" transform="translate(95.92,101.13) scale(0.775,0.532) translate(-96.4,-101.85)"/><path d="M78.6,101.6 C78.6,96.2 85.5,93.3 96,93.3 C107,93.3 114.2,96.4 114.2,101.8 C114.2,107.4 107.4,110.4 97,110.4 C86,110.4 78.6,107.2 78.6,101.6 Z" fill="#fff23a" transform="translate(95.82,100.99) scale(0.730,0.439) translate(-96.4,-101.85)"/></g><defs><radialGradient id="gBC" gradientUnits="userSpaceOnUse" cx="95.2" cy="100.7" r="4.4" gradientTransform="translate(95.2,100.7) scale(2.0,1) translate(-95.2,-100.7)"><stop offset="0" stop-color="#f1f1f1"/><stop offset="0.3" stop-color="#f6f6ec"/><stop offset="0.55" stop-color="#fffcb0" stop-opacity="0.9"/><stop offset="0.8" stop-color="#fff450" stop-opacity="0.55"/><stop offset="1" stop-color="#ffea30" stop-opacity="0"/></radialGradient></defs><ellipse cx="95.2" cy="100.7" rx="8.8" ry="4.4" fill="url(#gBC)"/>
</g>
<g class="num" text-anchor="middle"><text transform="translate(50.0,103.6) scale(0.88,1)">15</text><text transform="translate(62.2,103.6) scale(0.88,1)">13</text><text transform="translate(81.3,103.6) scale(0.88,1)">11</text><text transform="translate(103.0,103.6) scale(0.88,1)">9</text><text transform="translate(126.7,103.6) scale(0.88,1)">7</text><text transform="translate(149.2,103.6) scale(0.88,1)">5</text><text transform="translate(167.8,103.6) scale(0.88,1)">3</text><text transform="translate(180.3,103.6) scale(0.88,1)">1</text><text transform="translate(50.0,121.1) scale(0.88,1)">16</text><text transform="translate(62.2,121.1) scale(0.88,1)">14</text><text transform="translate(81.7,121.1) scale(0.88,1)">12</text><text transform="translate(103.8,121.1) scale(0.88,1)">10</text><text transform="translate(126.7,121.1) scale(0.88,1)">8</text><text transform="translate(149.2,121.1) scale(0.88,1)">6</text><text transform="translate(167.8,121.1) scale(0.88,1)">4</text><text transform="translate(180.3,121.1) scale(0.88,1)">2</text></g>
<text x="22.3" y="223.3" style="font-size:8.7px;fill:#111">R</text>
<text x="194.4" y="223.3" style="font-size:8.7px;fill:#111">L</text>
<rect x="11.5" y="40.4" width="195.9" height="186.3" fill="none" stroke="#6e6e6e" stroke-width="0.9"/>
<rect x="213.6" y="40.4" width="12" height="186.3" fill="url(#hot)" stroke="#3a2a2a" stroke-width="0.8"/>
<text x="207" y="36.2" class="cb">F-Value</text>
<line x1="223.5" x2="225.5" y1="63.3" y2="63.3" stroke="#333" stroke-width="0.7"/><text x="228.8" y="66.0" class="cb">9.8</text><line x1="223.5" x2="225.5" y1="85.7" y2="85.7" stroke="#333" stroke-width="0.7"/><text x="228.8" y="88.4" class="cb">9.6</text><line x1="223.5" x2="225.5" y1="108.1" y2="108.1" stroke="#333" stroke-width="0.7"/><text x="228.8" y="110.8" class="cb">9.4</text><line x1="223.5" x2="225.5" y1="130.5" y2="130.5" stroke="#333" stroke-width="0.7"/><text x="228.8" y="133.2" class="cb">9.2</text><line x1="223.5" x2="225.5" y1="152.9" y2="152.9" stroke="#333" stroke-width="0.7"/><text x="228.8" y="155.6" class="cb">9</text><line x1="223.5" x2="225.5" y1="175.3" y2="175.3" stroke="#333" stroke-width="0.7"/><text x="228.8" y="178.0" class="cb">8.8</text><line x1="223.5" x2="225.5" y1="197.8" y2="197.8" stroke="#333" stroke-width="0.7"/><text x="228.8" y="200.5" class="cb">8.6</text><line x1="223.5" x2="225.5" y1="220.2" y2="220.2" stroke="#333" stroke-width="0.7"/><text x="228.8" y="222.9" class="cb">8.4</text><path d="M243.5,18V245.4H685" fill="none" stroke="#eeeeee" stroke-width="1"/><g transform="translate(0.0,0)"><line x1="274" x2="463" y1="62.8" y2="62.8" stroke="#ededed" stroke-width="0.6"/><line x1="274" x2="463" y1="112.6" y2="112.6" stroke="#ededed" stroke-width="0.6"/><line x1="274" x2="463" y1="162.5" y2="162.5" stroke="#ededed" stroke-width="0.6"/><line x1="274" x2="463" y1="212.4" y2="212.4" stroke="#ededed" stroke-width="0.6"/><line x1="334.5" x2="334.5" y1="21" y2="226.5" stroke="#ededed" stroke-width="0.6"/><line x1="403.9" x2="403.9" y1="21" y2="226.5" stroke="#ededed" stroke-width="0.6"/><circle cx="282.3" cy="152.2" r="1.25" fill="#F8766D"/><circle cx="295.8" cy="145.7" r="1.25" fill="#F8766D"/><circle cx="357.5" cy="147.7" r="1.25" fill="#F8766D"/><circle cx="358.0" cy="154.7" r="1.25" fill="#F8766D"/><circle cx="384.9" cy="112.0" r="1.25" fill="#F8766D"/><circle cx="394.0" cy="113.0" r="1.25" fill="#F8766D"/><circle cx="386.9" cy="84.9" r="1.25" fill="#F8766D"/><circle cx="411.1" cy="104.7" r="1.25" fill="#F8766D"/><circle cx="427.1" cy="70.8" r="1.25" fill="#F8766D"/><circle cx="434.4" cy="118.3" r="1.25" fill="#F8766D"/><circle cx="441.2" cy="129.1" r="1.25" fill="#F8766D"/><circle cx="435.9" cy="138.4" r="1.25" fill="#F8766D"/><circle cx="398.0" cy="155.5" r="1.25" fill="#F8766D"/><circle cx="384.9" cy="162.3" r="1.25" fill="#F8766D"/><circle cx="454.8" cy="162.5" r="1.25" fill="#F8766D"/><circle cx="394.7" cy="128.1" r="1.25" fill="#F8766D"/><circle cx="451.0" cy="62.8" r="1.25" fill="#00BFC4"/><circle cx="325.4" cy="132.9" r="1.25" fill="#00BFC4"/><circle cx="333.2" cy="137.1" r="1.25" fill="#00BFC4"/><circle cx="319.3" cy="145.2" r="1.25" fill="#00BFC4"/><circle cx="369.6" cy="145.2" r="1.25" fill="#00BFC4"/><circle cx="381.4" cy="138.4" r="1.25" fill="#00BFC4"/><circle cx="389.7" cy="121.8" r="1.25" fill="#00BFC4"/><circle cx="404.8" cy="120.0" r="1.25" fill="#00BFC4"/><circle cx="408.8" cy="154.2" r="1.25" fill="#00BFC4"/><circle cx="408.0" cy="163.8" r="1.25" fill="#00BFC4"/><circle cx="421.1" cy="162.3" r="1.25" fill="#00BFC4"/><circle cx="303.6" cy="177.8" r="1.25" fill="#00BFC4"/><circle cx="392.6" cy="199.7" r="1.25" fill="#00BFC4"/><path d="M282.3,111.4 L286.6,111.7 L290.9,111.9 L295.2,112.1 L299.5,112.3 L303.8,112.5 L308.1,112.7 L312.5,112.9 L316.8,113.1 L321.1,113.2 L325.4,113.3 L329.7,113.4 L334.0,113.5 L338.3,113.5 L342.6,113.5 L346.9,113.5 L351.2,113.5 L355.5,113.4 L359.8,113.2 L364.1,113.0 L368.5,112.8 L372.8,112.5 L377.1,112.2 L381.4,111.8 L385.7,111.3 L390.0,110.8 L394.3,110.2 L398.6,109.6 L402.9,108.9 L407.2,108.1 L411.5,107.2 L415.8,106.3 L420.1,105.4 L424.4,104.3 L428.8,103.2 L433.1,102.1 L437.4,100.9 L441.7,99.6 L446.0,98.3 L450.3,97.0 L454.6,95.6 L454.6,143.4 L450.3,143.4 L446.0,143.5 L441.7,143.6 L437.4,143.8 L433.1,144.0 L428.8,144.2 L424.4,144.6 L420.1,144.9 L415.8,145.4 L411.5,145.9 L407.2,146.4 L402.9,147.0 L398.6,147.7 L394.3,148.5 L390.0,149.3 L385.7,150.2 L381.4,151.2 L377.1,152.2 L372.8,153.3 L368.5,154.4 L364.1,155.6 L359.8,156.8 L355.5,158.1 L351.2,159.4 L346.9,160.7 L342.6,162.1 L338.3,163.5 L334.0,165.0 L329.7,166.5 L325.4,168.0 L321.1,169.5 L316.8,171.1 L312.5,172.6 L308.1,174.2 L303.8,175.8 L299.5,177.4 L295.2,179.0 L290.9,180.7 L286.6,182.3 L282.3,184.0Z" fill="#999" fill-opacity="0.4"/><path d="M303.4,115.8 L307.1,116.2 L310.8,116.6 L314.5,117.0 L318.2,117.3 L321.8,117.6 L325.5,117.9 L329.2,118.1 L332.9,118.3 L336.6,118.5 L340.3,118.6 L344.0,118.6 L347.7,118.6 L351.4,118.4 L355.1,118.2 L358.8,117.9 L362.4,117.4 L366.1,116.8 L369.8,116.1 L373.5,115.1 L377.2,114.0 L380.9,112.7 L384.6,111.2 L388.3,109.5 L392.0,107.6 L395.6,105.5 L399.3,103.2 L403.0,100.8 L406.7,98.3 L410.4,95.7 L414.1,92.9 L417.8,90.1 L421.5,87.2 L425.2,84.2 L428.9,81.1 L432.6,78.0 L436.2,74.9 L439.9,71.7 L443.6,68.5 L447.3,65.3 L451.0,62.0 L451.0,152.0 L447.3,151.6 L443.6,151.3 L439.9,151.0 L436.2,150.8 L432.6,150.5 L428.9,150.3 L425.2,150.2 L421.5,150.1 L417.8,150.1 L414.1,150.2 L410.4,150.4 L406.7,150.7 L403.0,151.0 L399.3,151.6 L395.6,152.2 L392.0,153.1 L388.3,154.1 L384.6,155.3 L380.9,156.7 L377.2,158.3 L373.5,160.1 L369.8,162.1 L366.1,164.2 L362.4,166.5 L358.8,169.0 L355.1,171.6 L351.4,174.3 L347.7,177.1 L344.0,179.9 L340.3,182.9 L336.6,185.9 L332.9,189.0 L329.2,192.1 L325.5,195.2 L321.8,198.4 L318.2,201.6 L314.5,204.9 L310.8,208.2 L307.1,211.5 L303.4,214.8Z" fill="#999" fill-opacity="0.4"/><line x1="282.3" y1="147.7" x2="454.6" y2="119.5" stroke="#F8766D" stroke-opacity="0.45" stroke-width="2.4"/><line x1="303.4" y1="165.3" x2="451" y2="107" stroke="#00BFC4" stroke-opacity="0.55" stroke-width="2.4"/><line x1="274.7" y1="155.7" x2="463.1" y2="110.5" stroke="#8f8f8f" stroke-width="0.5"/><text x="271.5" y="66.1" text-anchor="end" class="tick">0.4</text><text x="271.5" y="115.9" text-anchor="end" class="tick">0.2</text><text x="271.5" y="165.8" text-anchor="end" class="tick">0.0</text><text x="271.5" y="215.7" text-anchor="end" class="tick">-0.2</text><text x="333.7" y="233.6" text-anchor="middle" class="tick">-0.5</text><text x="403.9" y="233.6" text-anchor="middle" class="tick">0.0</text><text x="368.2" y="243.5" text-anchor="middle" class="axt" xml:space="preserve">[HbO]   Optode 9</text><text transform="translate(254,122.7) rotate(-90)" text-anchor="middle" class="axt">ScoreDifference (SAT-vSAT)</text><text x="416.9" y="32" class="legt">Class</text><rect x="417" y="34" width="4.6" height="13.6" fill="#d0d0d0"/><line x1="417" x2="421.6" y1="36.9" y2="36.9" stroke="#F8766D" stroke-width="1.8"/><line x1="417" x2="421.6" y1="44.1" y2="44.1" stroke="#00BFC4" stroke-width="1.8"/><text x="423" y="41" class="leg">HC</text><text x="423" y="47.7" class="leg">Sch</text><text x="246.3" y="34.8" class="pl">B</text></g><g transform="translate(223.8,0)"><line x1="274" x2="463" y1="62.8" y2="62.8" stroke="#ededed" stroke-width="0.6"/><line x1="274" x2="463" y1="112.6" y2="112.6" stroke="#ededed" stroke-width="0.6"/><line x1="274" x2="463" y1="162.5" y2="162.5" stroke="#ededed" stroke-width="0.6"/><line x1="274" x2="463" y1="212.4" y2="212.4" stroke="#ededed" stroke-width="0.6"/><line x1="334.5" x2="334.5" y1="21" y2="226.5" stroke="#ededed" stroke-width="0.6"/><line x1="403.9" x2="403.9" y1="21" y2="226.5" stroke="#ededed" stroke-width="0.6"/><circle cx="282.3" cy="152.2" r="1.25" fill="#F8766D"/><circle cx="295.8" cy="145.7" r="1.25" fill="#F8766D"/><circle cx="357.5" cy="147.7" r="1.25" fill="#F8766D"/><circle cx="358.0" cy="154.7" r="1.25" fill="#F8766D"/><circle cx="384.9" cy="112.0" r="1.25" fill="#F8766D"/><circle cx="394.0" cy="113.0" r="1.25" fill="#F8766D"/><circle cx="386.9" cy="84.9" r="1.25" fill="#F8766D"/><circle cx="411.1" cy="104.7" r="1.25" fill="#F8766D"/><circle cx="427.1" cy="70.8" r="1.25" fill="#F8766D"/><circle cx="434.4" cy="118.3" r="1.25" fill="#F8766D"/><circle cx="441.2" cy="129.1" r="1.25" fill="#F8766D"/><circle cx="435.9" cy="138.4" r="1.25" fill="#F8766D"/><circle cx="398.0" cy="155.5" r="1.25" fill="#F8766D"/><circle cx="384.9" cy="162.3" r="1.25" fill="#F8766D"/><circle cx="454.8" cy="162.5" r="1.25" fill="#F8766D"/><circle cx="394.7" cy="128.1" r="1.25" fill="#F8766D"/><circle cx="451.0" cy="62.8" r="1.25" fill="#00BFC4"/><circle cx="325.4" cy="132.9" r="1.25" fill="#00BFC4"/><circle cx="333.2" cy="137.1" r="1.25" fill="#00BFC4"/><circle cx="319.3" cy="145.2" r="1.25" fill="#00BFC4"/><circle cx="369.6" cy="145.2" r="1.25" fill="#00BFC4"/><circle cx="381.4" cy="138.4" r="1.25" fill="#00BFC4"/><circle cx="389.7" cy="121.8" r="1.25" fill="#00BFC4"/><circle cx="404.8" cy="120.0" r="1.25" fill="#00BFC4"/><circle cx="408.8" cy="154.2" r="1.25" fill="#00BFC4"/><circle cx="408.0" cy="163.8" r="1.25" fill="#00BFC4"/><circle cx="421.1" cy="162.3" r="1.25" fill="#00BFC4"/><circle cx="303.6" cy="177.8" r="1.25" fill="#00BFC4"/><circle cx="392.6" cy="199.7" r="1.25" fill="#00BFC4"/><path d="M282.3,111.4 L286.6,111.7 L290.9,111.9 L295.2,112.1 L299.5,112.3 L303.8,112.5 L308.1,112.7 L312.5,112.9 L316.8,113.1 L321.1,113.2 L325.4,113.3 L329.7,113.4 L334.0,113.5 L338.3,113.5 L342.6,113.5 L346.9,113.5 L351.2,113.5 L355.5,113.4 L359.8,113.2 L364.1,113.0 L368.5,112.8 L372.8,112.5 L377.1,112.2 L381.4,111.8 L385.7,111.3 L390.0,110.8 L394.3,110.2 L398.6,109.6 L402.9,108.9 L407.2,108.1 L411.5,107.2 L415.8,106.3 L420.1,105.4 L424.4,104.3 L428.8,103.2 L433.1,102.1 L437.4,100.9 L441.7,99.6 L446.0,98.3 L450.3,97.0 L454.6,95.6 L454.6,143.4 L450.3,143.4 L446.0,143.5 L441.7,143.6 L437.4,143.8 L433.1,144.0 L428.8,144.2 L424.4,144.6 L420.1,144.9 L415.8,145.4 L411.5,145.9 L407.2,146.4 L402.9,147.0 L398.6,147.7 L394.3,148.5 L390.0,149.3 L385.7,150.2 L381.4,151.2 L377.1,152.2 L372.8,153.3 L368.5,154.4 L364.1,155.6 L359.8,156.8 L355.5,158.1 L351.2,159.4 L346.9,160.7 L342.6,162.1 L338.3,163.5 L334.0,165.0 L329.7,166.5 L325.4,168.0 L321.1,169.5 L316.8,171.1 L312.5,172.6 L308.1,174.2 L303.8,175.8 L299.5,177.4 L295.2,179.0 L290.9,180.7 L286.6,182.3 L282.3,184.0Z" fill="#999" fill-opacity="0.4"/><path d="M303.4,115.8 L307.1,116.2 L310.8,116.6 L314.5,117.0 L318.2,117.3 L321.8,117.6 L325.5,117.9 L329.2,118.1 L332.9,118.3 L336.6,118.5 L340.3,118.6 L344.0,118.6 L347.7,118.6 L351.4,118.4 L355.1,118.2 L358.8,117.9 L362.4,117.4 L366.1,116.8 L369.8,116.1 L373.5,115.1 L377.2,114.0 L380.9,112.7 L384.6,111.2 L388.3,109.5 L392.0,107.6 L395.6,105.5 L399.3,103.2 L403.0,100.8 L406.7,98.3 L410.4,95.7 L414.1,92.9 L417.8,90.1 L421.5,87.2 L425.2,84.2 L428.9,81.1 L432.6,78.0 L436.2,74.9 L439.9,71.7 L443.6,68.5 L447.3,65.3 L451.0,62.0 L451.0,152.0 L447.3,151.6 L443.6,151.3 L439.9,151.0 L436.2,150.8 L432.6,150.5 L428.9,150.3 L425.2,150.2 L421.5,150.1 L417.8,150.1 L414.1,150.2 L410.4,150.4 L406.7,150.7 L403.0,151.0 L399.3,151.6 L395.6,152.2 L392.0,153.1 L388.3,154.1 L384.6,155.3 L380.9,156.7 L377.2,158.3 L373.5,160.1 L369.8,162.1 L366.1,164.2 L362.4,166.5 L358.8,169.0 L355.1,171.6 L351.4,174.3 L347.7,177.1 L344.0,179.9 L340.3,182.9 L336.6,185.9 L332.9,189.0 L329.2,192.1 L325.5,195.2 L321.8,198.4 L318.2,201.6 L314.5,204.9 L310.8,208.2 L307.1,211.5 L303.4,214.8Z" fill="#999" fill-opacity="0.4"/><line x1="282.3" y1="147.7" x2="454.6" y2="119.5" stroke="#F8766D" stroke-opacity="0.45" stroke-width="2.4"/><line x1="303.4" y1="165.3" x2="451" y2="107" stroke="#00BFC4" stroke-opacity="0.55" stroke-width="2.4"/><line x1="274.7" y1="155.7" x2="463.1" y2="110.5" stroke="#8f8f8f" stroke-width="0.5"/><text x="271.5" y="66.1" text-anchor="end" class="tick">0.4</text><text x="271.5" y="115.9" text-anchor="end" class="tick">0.2</text><text x="271.5" y="165.8" text-anchor="end" class="tick">0.0</text><text x="271.5" y="215.7" text-anchor="end" class="tick">-0.2</text><text x="333.7" y="233.6" text-anchor="middle" class="tick">-0.5</text><text x="403.9" y="233.6" text-anchor="middle" class="tick">0.0</text><text x="368.2" y="243.5" text-anchor="middle" class="axt" xml:space="preserve">[HbO]   Optode 11</text><text transform="translate(254,122.7) rotate(-90)" text-anchor="middle" class="axt">ScoreDifference (SAT-vSAT)</text><text x="416.9" y="32" class="legt">Class</text><rect x="417" y="34" width="4.6" height="13.6" fill="#d0d0d0"/><line x1="417" x2="421.6" y1="36.9" y2="36.9" stroke="#F8766D" stroke-width="1.8"/><line x1="417" x2="421.6" y1="44.1" y2="44.1" stroke="#00BFC4" stroke-width="1.8"/><text x="423" y="41" class="leg">HC</text><text x="423" y="47.7" class="leg">Sch</text><text x="241.2" y="34.8" class="pl">C</text></g></svg></body></html>
